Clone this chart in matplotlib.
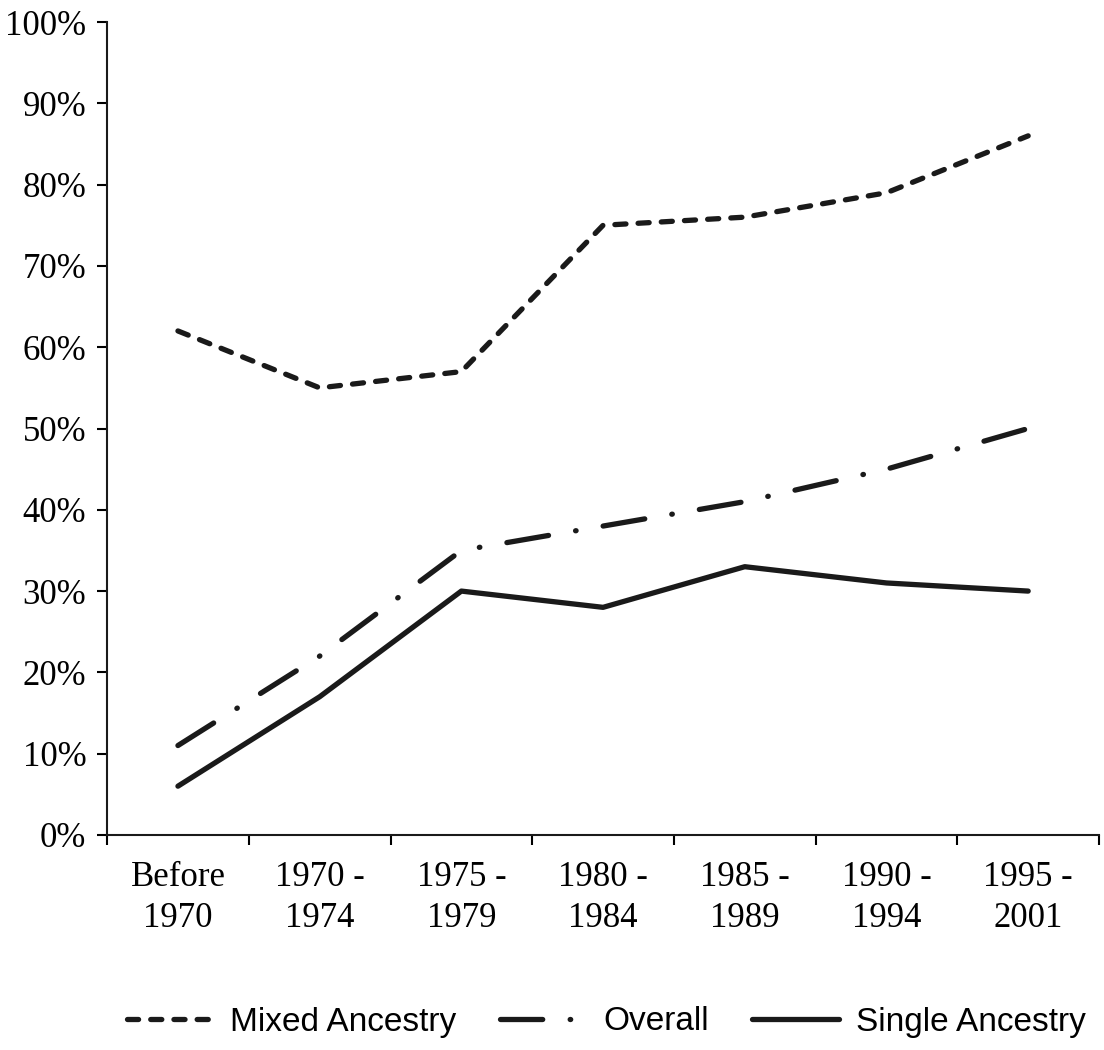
import matplotlib
matplotlib.use("Agg")
import matplotlib.pyplot as plt

# Data
periods = ["Before\n1970", "1970 -\n1974", "1975 -\n1979", "1980 -\n1984",
           "1985 -\n1989", "1990 -\n1994", "1995 -\n2001"]
mixed = [62, 55, 57, 75, 76, 79, 86]
overall = [11, 22, 35, 38, 41, 45, 50]
single = [6, 17, 30, 28, 33, 31, 30]
y_ticks = [0, 10, 20, 30, 40, 50, 60, 70, 80, 90, 100]

x = list(range(len(periods)))

fig = plt.figure(figsize=(11.04, 10.5), dpi=100)
ax = fig.add_axes([0.097, 0.2048, 0.8985, 0.7742])

lw = 3.8
ax.plot(x, mixed, color="#1a1a1a", lw=lw, dashes=(2.1, 2.3),
        dash_capstyle="round", solid_capstyle="round", label="Mixed Ancestry")
ax.plot(x, overall, color="#1a1a1a", lw=lw, dashes=(8.0, 5.2, 0.1, 5.2),
        dash_capstyle="round", solid_capstyle="round", label="Overall")
ax.plot(x, single, color="#1a1a1a", lw=lw, solid_capstyle="round",
        label="Single Ancestry")

ax.set_xlim(-0.5, len(periods) - 0.5)
ax.set_ylim(0, 100)

# category boundaries as ticks, labels at the centres
ax.set_xticks([i - 0.5 for i in range(len(periods) + 1)])
ax.set_xticklabels([])
ax.set_xticks(x, minor=True)
ax.set_xticklabels(periods, minor=True, fontsize=25, family="Liberation Serif",
                   linespacing=1.3)
ax.tick_params(axis="x", which="minor", length=0, pad=19)
ax.tick_params(axis="x", which="major", length=7, width=1.5, direction="out")

ax.set_yticks(y_ticks)
ax.set_yticklabels([f"{v}%" for v in y_ticks], fontsize=25, family="Liberation Serif")
ax.tick_params(axis="y", length=7, width=1.5, direction="out", pad=8)

for side in ["top", "right"]:
    ax.spines[side].set_visible(False)
for side in ["left", "bottom"]:
    ax.spines[side].set_linewidth(1.5)
    ax.spines[side].set_color("#1a1a1a")

fig.legend(loc="center left", bbox_to_anchor=(0.115, 1 - 1022 / 1050), ncol=3,
           frameon=False, borderpad=0, borderaxespad=0,
           prop={"family": "Liberation Sans", "size": 24},
           handlelength=2.6, handletextpad=0.5, columnspacing=1.3)

fig.savefig("out.png", dpi=100)
